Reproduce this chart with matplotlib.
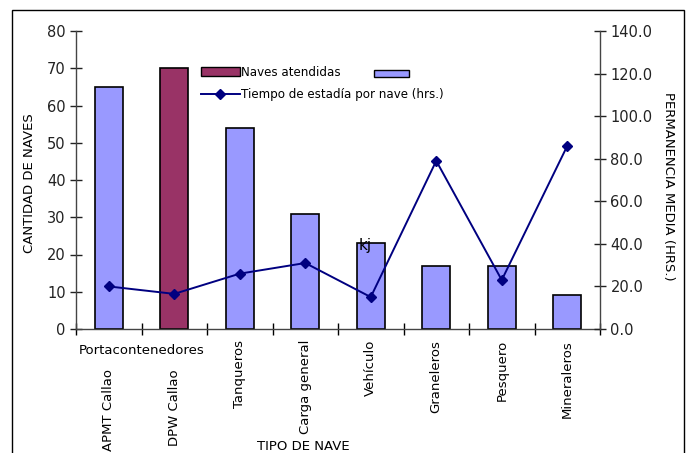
import matplotlib
matplotlib.use("Agg")
import matplotlib.pyplot as plt
from matplotlib.patches import Rectangle, Patch
from matplotlib.lines import Line2D
import matplotlib.transforms as mtrans

categories = ["APMT Callao", "DPW Callao", "Tanqueros", "Carga general",
              "Vehículo", "Graneleros", "Pesquero", "Mineraleros"]
group_label = "Portacontenedores"
naves = [65, 70, 54, 31, 23, 17, 17, 9]
tiempo = [20.0, 16.5, 26.0, 31.0, 15.0, 79.0, 23.0, 86.0]
left_ticks = [0, 10, 20, 30, 40, 50, 60, 70, 80]
right_ticks = [0, 20, 40, 60, 80, 100, 120, 140]

BLUE = "#9999FF"
MAROON = "#993366"
NAVY = "#000080"

W, H = 692, 453
fig = plt.figure(figsize=(W / 100, H / 100), dpi=100)
ax = fig.add_axes([76 / W, 1 - 329 / H, (600 - 76) / W, (329 - 31) / H])
ax2 = ax.twinx()

x = list(range(len(categories)))
colors = [MAROON if i == 1 else BLUE for i in x]
ax.bar(x, naves, width=0.42, color=colors, edgecolor="black", linewidth=1.2, zorder=2)
ax2.plot(x, tiempo, color=NAVY, lw=1.4, marker="D", markersize=5.5, zorder=3)

ax.set_xlim(-0.5, len(categories) - 0.5)
ax.set_ylim(0, 80)
ax.set_yticks(left_ticks)
ax2.set_ylim(0, 140)
ax2.set_yticks(right_ticks)
ax2.set_yticklabels([f"{v:.1f}" for v in right_ticks])

bounds = [i - 0.5 for i in range(len(categories) + 1)]
ax.set_xticks(bounds)
ax.set_xticklabels([])

for a in (ax, ax2):
    a.spines["top"].set_visible(False)
    for s in a.spines.values():
        s.set_color("#444444")
        s.set_linewidth(1.0)
ax.spines["right"].set_visible(False)
ax2.spines["left"].set_visible(False)
ax2.spines["bottom"].set_visible(False)

ax.tick_params(axis="y", direction="inout", length=9, width=1, labelsize=10.5, pad=3, colors="#222222")
ax.tick_params(axis="x", direction="inout", length=8, width=1)
ax2.tick_params(axis="y", direction="inout", length=9, width=1, labelsize=10.5, pad=3, colors="#222222")

# category labels
trans = mtrans.blended_transform_factory(ax.transData, fig.transFigure)
ax.text(0.5, 1 - 350 / H, group_label, transform=trans, ha="center", va="center", fontsize=9.5)
for i, c in enumerate(categories):
    ytop = 369 if i < 2 else 340
    ax.text(i, 1 - ytop / H, c, transform=trans, ha="center", va="top",
            rotation=90, fontsize=9.5)

fig.text(303 / W, 1 - 447 / H, "TIPO DE NAVE", ha="center", va="center", fontsize=9.5)
fig.text(30 / W, 1 - 183 / H, "CANTIDAD DE NAVES", ha="center", va="center",
         rotation=90, fontsize=9.5)
fig.text(668 / W, 1 - 186 / H, "PERMANENCIA MEDIA (HRS.)", ha="center", va="center",
         rotation=270, fontsize=9.5)

ax.text(3.82, 22.5, "kj", ha="left", va="center", fontsize=11, zorder=5)

# legends
h1 = [Patch(facecolor=MAROON, edgecolor="black", linewidth=1.0),
      Line2D([], [], color=NAVY, lw=1.4, marker="D", markersize=5.5)]
leg1 = fig.legend(h1, ["Naves atendidas", "Tiempo de estadía por nave (hrs.)"],
                  loc="upper left", bbox_to_anchor=(196 / W, 1 - 61 / H),
                  frameon=False, fontsize=8.6, handlelength=3.3, handleheight=0.7,
                  handletextpad=0.1, labelspacing=0.8, borderaxespad=0)
leg2 = fig.legend([Patch(facecolor=BLUE, edgecolor="black", linewidth=1.0)], [""],
                  loc="upper left", bbox_to_anchor=(369 / W, 1 - 63 / H),
                  frameon=False, fontsize=9, handlelength=2.8, handleheight=0.45,
                  handletextpad=0, borderaxespad=0)

# outer border
fig.patches.append(Rectangle((12 / W, -0.05), 672 / W, 1.05 - 10 / H,
                             transform=fig.transFigure, fill=False,
                             edgecolor="black", linewidth=1.0))

fig.savefig("out.png", dpi=100)
